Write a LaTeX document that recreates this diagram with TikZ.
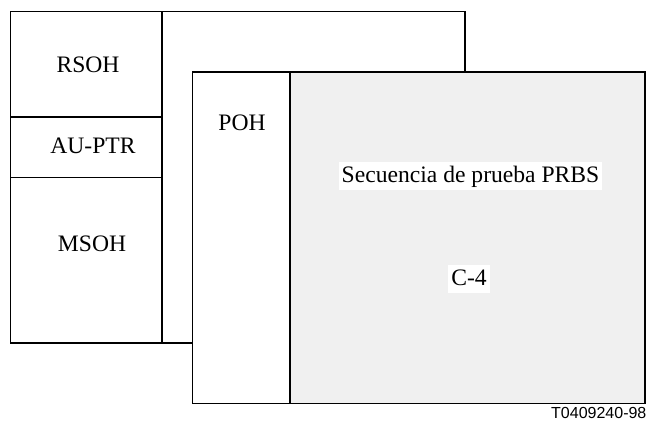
\documentclass[tikz,border=0pt]{standalone}
\usepackage{fontspec}
\setmainfont{Liberation Serif}
\newfontfamily\labelfont{Liberation Sans}
\usepackage{xcolor}
\definecolor{payload}{HTML}{F0F0F0}

\begin{document}
\begin{tikzpicture}[x=0.5pt, y=-0.5pt, line width=0.6pt,
    txt/.style={font=\fontsize{11.8}{14}\selectfont, anchor=base, inner sep=0pt},
    boxed/.style={txt, fill=white, inner xsep=1.5pt, inner ysep=0.5pt, text height=10pt, text depth=3pt}]
        \useasboundingbox (0,0) rectangle (648,421);

        % Back frame with section overhead column
        \draw (10.5,11.5) rectangle (465,343);
        \draw (162,11.5) -- (162,343);
        \draw (10.5,117) -- (162,117);
        \draw (10.5,177.5) -- (162,177.5);

        % Overhead labels
        \node[txt] (rsoh) at (88,73) {RSOH};
        \node[txt] (auptr) at (93,154) {AU-PTR};
        \node[txt] (msoh) at (92,252) {MSOH};

        % Front frame: path overhead and container
        \draw[fill=white] (192.5,72) rectangle (645,403.5);
        \draw[fill=payload] (290,72) rectangle (645,403.5);

        % Path overhead and payload labels
        \node[txt] (poh) at (242,131) {POH};
        \node[boxed] (prbs) at (470.5,183) {Secuencia de prueba PRBS};
        \node[boxed] (cfour) at (469,286) {C-4};

        % Figure reference
        \node[anchor=base east, inner sep=0pt, font=\labelfont\fontsize{8}{10}\selectfont] (ref) at (647,419) {T0409240-98};
\end{tikzpicture}
\end{document}
